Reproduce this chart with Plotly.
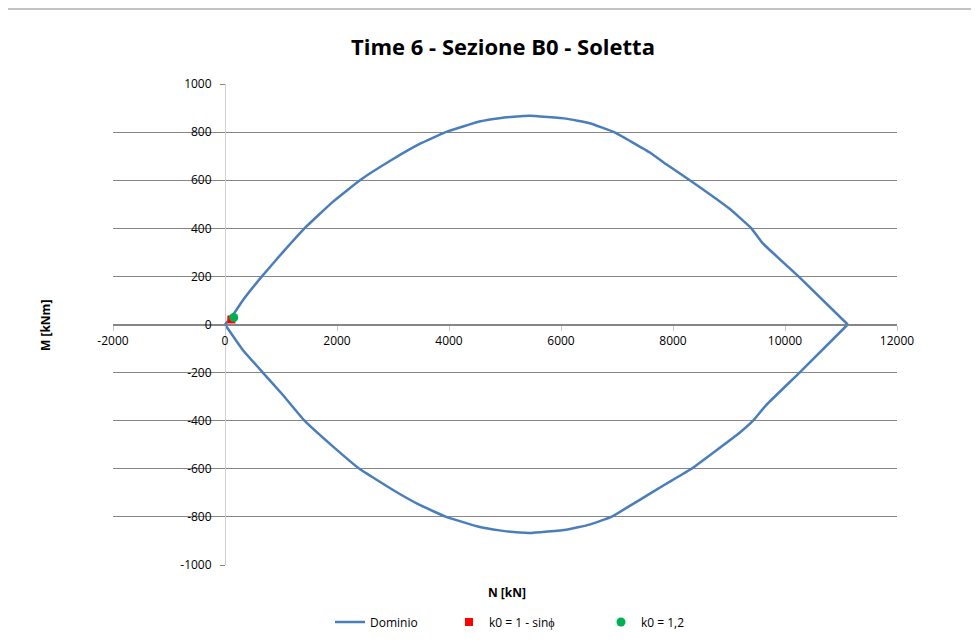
import plotly.graph_objects as go

# Dominio di interazione N-M: upper branch and lower branch
n_upper = [0, 160, 310, 640, 1030, 1420, 1925, 2410, 2980, 3485, 3940, 4560,
           4900, 5280, 5440, 6090, 6500, 6950, 7580, 7880, 8300, 9000, 9400,
           9600, 10260, 11120]
m_upper = [0, 46, 98, 195, 300, 400, 510, 600, 685, 752, 800, 845,
           858, 866, 868, 856, 838, 800, 716, 666, 600, 483, 400,
           338, 196, 0]
n_lower = [11120, 10260, 9660, 9430, 9190, 8330, 7880, 7400, 6900, 6510, 6090,
           5440, 5260, 4900, 4550, 3950, 3475, 3000, 2400, 1925, 1420, 1030,
           675, 318, 0]
m_lower = [0, -200, -336, -400, -450, -600, -662, -730, -800, -832, -853,
           -867, -865, -856, -842, -800, -750, -688, -600, -507, -400, -292,
           -200, -106, 0]

# load points
n_k0_sin = [114]
m_k0_sin = [21]
n_k0_12 = [156]
m_k0_12 = [29]

x_ticks = list(range(-2000, 12001, 2000))
y_ticks = list(range(-1000, 1001, 200))

FONT = "Open Sans"
GRID = "#868686"
BLUE = "#4a7ebb"

# page body adds an 8px offset, so positions below are computed from
# reference pixels minus 8
OFF = 8
L, T, W, H = 113 - OFF, 84 - OFF, 784, 481


def px_x(px):
    return (px - OFF - L) / W


def px_y(py):
    return (T + H - (py - OFF)) / H


fig = go.Figure()
fig.add_trace(go.Scatter(
    x=n_upper, y=m_upper,
    mode="lines", name="Dominio",
    line=dict(color=BLUE, width=2.5, shape="spline", smoothing=0.3),
    legend="legend2", legendgroup="dom",
))
fig.add_trace(go.Scatter(
    x=n_lower, y=m_lower,
    mode="lines", name="Dominio",
    line=dict(color=BLUE, width=2.5, shape="spline", smoothing=0.3),
    legend="legend2", legendgroup="dom", showlegend=False,
))
fig.add_trace(go.Scatter(
    x=n_k0_sin, y=m_k0_sin, mode="markers", name="k0 = 1 - sinϕ",
    marker=dict(symbol="square", color="#ff0000", size=8),
    legend="legend3",
))
fig.add_trace(go.Scatter(
    x=n_k0_12, y=m_k0_12, mode="markers", name="k0 = 1,2",
    marker=dict(symbol="circle", color="#00b050", size=9),
    legend="legend4",
))

legend_style = dict(
    orientation="h", yanchor="middle", y=px_y(622), xanchor="left",
    font=dict(family=FONT, size=12, color="#000000"),
    bgcolor="rgba(0,0,0,0)", borderwidth=0,
)

fig.update_layout(
    width=979 - OFF,
    height=642 - OFF,
    paper_bgcolor="white",
    plot_bgcolor="white",
    margin=dict(l=L, r=979 - OFF - L - W, t=T, b=642 - OFF - T - H,
                autoexpand=False),
    title=dict(
        text="<b>Time 6 - Sezione B0 - Soletta</b>",
        x=(503 - OFF) / (979 - OFF), xanchor="center",
        y=1 - (47 - OFF) / (642 - OFF), yanchor="middle",
        font=dict(family=FONT, size=22, color="#000000"),
    ),
    xaxis=dict(
        range=[-2000, 12000],
        tickvals=x_ticks,
        ticktext=[str(v) for v in x_ticks],
        anchor="free", position=0.5,
        showgrid=False,
        showline=True, linecolor=GRID, linewidth=1,
        ticks="outside", ticklen=5, tickcolor="#c8c8c8",
        zeroline=True, zerolinecolor="#d0d0d0", zerolinewidth=1,
        tickfont=dict(family=FONT, size=12, color="#000000"),
    ),
    yaxis=dict(
        range=[-1000, 1000],
        tickvals=y_ticks,
        ticktext=[str(v) for v in y_ticks],
        anchor="free", position=2000 / 14000,
        showgrid=True, gridcolor=GRID, gridwidth=1,
        showline=False,
        ticks="outside", ticklen=5, tickcolor=GRID,
        ticklabelstandoff=6,
        zeroline=False,
        tickfont=dict(family=FONT, size=12, color="#000000"),
    ),
    showlegend=True,
    legend2=dict(legend_style, x=px_x(330)),
    legend3=dict(legend_style, x=px_x(449)),
    legend4=dict(legend_style, x=px_x(601)),
    annotations=[
        dict(text="<b>M [kNm]</b>", xref="paper", yref="paper",
             x=px_x(45), y=px_y(326), textangle=-90,
             showarrow=False, xanchor="center", yanchor="middle",
             font=dict(family=FONT, size=12, color="#000000")),
        dict(text="<b>N [kN]</b>", xref="paper", yref="paper",
             x=px_x(507), y=px_y(592),
             showarrow=False, xanchor="center", yanchor="middle",
             font=dict(family=FONT, size=12, color="#000000")),
    ],
    shapes=[
        dict(type="line", xref="paper", yref="paper",
             x0=px_x(5), x1=px_x(990), y0=px_y(9), y1=px_y(9),
             line=dict(color=GRID, width=1)),
        dict(type="line", xref="paper", yref="paper",
             x0=px_x(5), x1=px_x(5), y0=px_y(9), y1=px_y(660),
             line=dict(color=GRID, width=1)),
    ],
)

fig.write_html("out.html")
